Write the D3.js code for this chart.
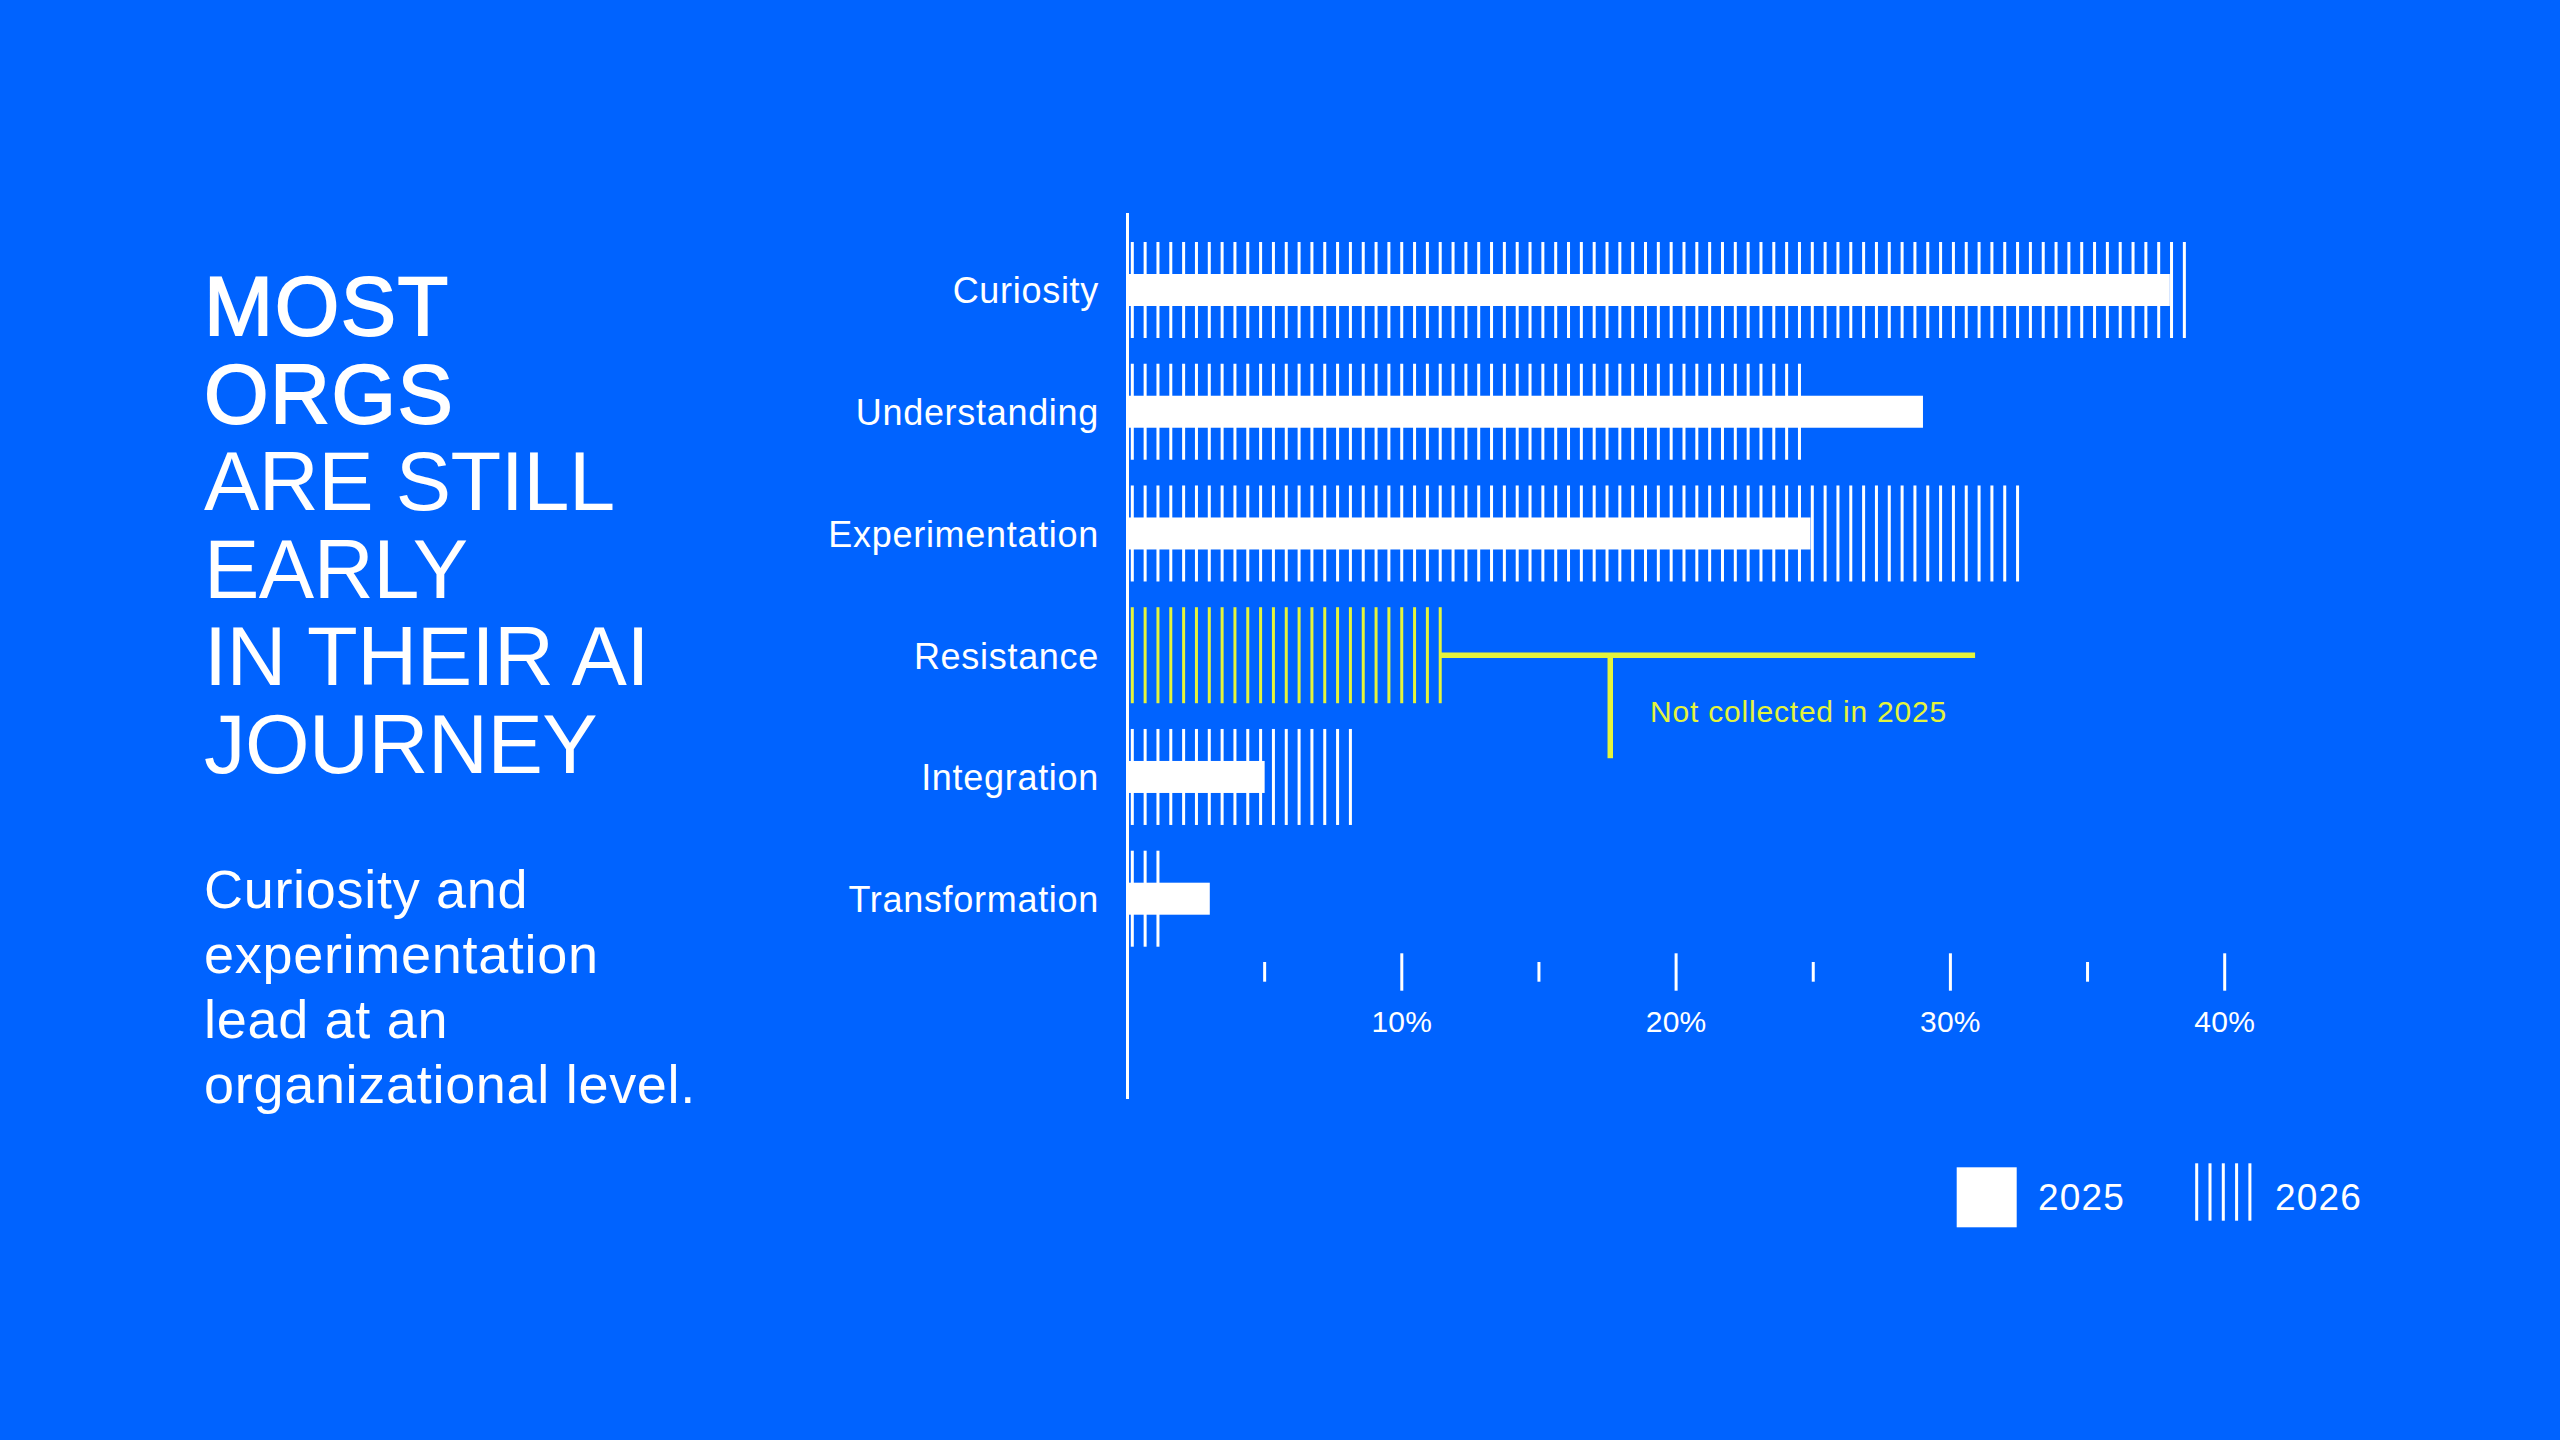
<!DOCTYPE html>
<html>
<head>
<meta charset="utf-8">
<script src="https://cdn.jsdelivr.net/npm/d3@7"></script>
<style>
  html, body { margin: 0; padding: 0; background: #0063ff; }
  svg { display: block; }
  text { font-family: "Liberation Sans", Arial, sans-serif; fill: #ffffff; }
</style>
</head>
<body>
<svg id="chart" width="2560" height="1440"></svg>
<script>
// ---- data ----
const categories = ["Curiosity", "Understanding", "Experimentation", "Resistance", "Integration", "Transformation"];
const values2025 = [38.0, 29.0, 24.9, null, 5.0, 3.0];
const values2026 = [38.6, 24.6, 32.5, 11.5, 8.2, 1.2];
const highlighted = ["Resistance"];
const tickValues = [5, 10, 15, 20, 25, 30, 35, 40];
const majorTicks = [10, 20, 30, 40];
const tickLabels = ["10%", "20%", "30%", "40%"];
const seriesNames = ["2025", "2026"];
const titleBold = ["MOST", "ORGS"];
const titleRegular = ["ARE STILL", "EARLY", "IN THEIR AI", "JOURNEY"];
const subtitleLines = ["Curiosity and", "experimentation", "lead at an", "organizational level."];
const annotationText = "Not collected in 2025";
const annotationEnd = 30.9;   // % where the bracket line ends
const annotationStem = 17.6;  // % where the stem drops
const annotationLabel = 19.05; // % where the note starts

// ---- style ----
const BLUE = "#0063ff", WHITE = "#ffffff", YELLOW = "#e4f43c";

const svg = d3.select("#chart");
svg.append("rect").attr("width", 2560).attr("height", 1440).attr("fill", BLUE);

// ---- title & subtitle ----
const allTitle = titleBold.concat(titleRegular);
svg.append("g").selectAll("text").data(allTitle).join("text")
  .attr("x", 204)
  .attr("y", (d, i) => 335 + i * 87.6)
  .attr("font-size", 83)
  .attr("letter-spacing", (d, i) => i < titleBold.length ? 1.5 : -0.5)
  .attr("stroke", (d, i) => i < titleBold.length ? WHITE : "none")
  .attr("stroke-width", (d, i) => i < titleBold.length ? 1.8 : 0)
  .text(d => d);

svg.append("g").selectAll("text").data(subtitleLines).join("text")
  .attr("x", 204)
  .attr("y", (d, i) => 908.3 + i * 65)
  .attr("font-size", 54)
  .attr("letter-spacing", 0.7)
  .text(d => d);

// ---- scales ----
const x = d3.scaleLinear().domain([0, 40]).range([1127.5, 2224.7]);
const y = d3.scalePoint().domain(categories).range([290, 898.7]);
const h2026 = 96, h2025 = 32;
const stripeGap = 12.83, stripeOffset = 4.8, stripeW = 3;

const plot = svg.append("g");

// 2026 striped bars
categories.forEach((c, i) => {
  const v = values2026[i];
  if (v == null) return;
  const end = x(v);
  const xs = d3.range(x(0) + stripeOffset, end + 0.01, stripeGap);
  const col = highlighted.includes(c) ? YELLOW : WHITE;
  plot.append("g").selectAll("rect").data(xs).join("rect")
    .attr("x", d => d - stripeW / 2)
    .attr("y", y(c) - h2026 / 2)
    .attr("width", stripeW)
    .attr("height", h2026)
    .attr("fill", col);
});

// 2025 solid bars
plot.append("g").selectAll("rect")
  .data(categories.map((c, i) => ({c, v: values2025[i]})).filter(d => d.v != null))
  .join("rect")
  .attr("x", x(0))
  .attr("y", d => y(d.c) - h2025 / 2)
  .attr("width", d => x(d.v) - x(0))
  .attr("height", h2025)
  .attr("fill", WHITE);

// axis line
svg.append("line")
  .attr("x1", x(0)).attr("x2", x(0))
  .attr("y1", 213).attr("y2", 1099)
  .attr("stroke", WHITE).attr("stroke-width", 3);

// category labels
svg.append("g").selectAll("text").data(categories).join("text")
  .attr("x", 1099)
  .attr("y", d => y(d) + 13.3)
  .attr("text-anchor", "end")
  .attr("font-size", 36)
  .attr("letter-spacing", 0.7)
  .text(d => d);

// ticks
svg.append("g").selectAll("line").data(tickValues).join("line")
  .attr("x1", d => x(d)).attr("x2", d => x(d))
  .attr("y1", d => majorTicks.includes(d) ? 953.3 : 962)
  .attr("y2", d => majorTicks.includes(d) ? 990.7 : 981.7)
  .attr("stroke", WHITE).attr("stroke-width", 3);

svg.append("g").selectAll("text").data(majorTicks).join("text")
  .attr("x", d => x(d))
  .attr("y", 1032)
  .attr("text-anchor", "middle")
  .attr("font-size", 30)
  .attr("letter-spacing", 0.2)
  .text((d, i) => tickLabels[i]);

// annotation for Resistance
const rIdx = categories.indexOf("Resistance");
const ry = y("Resistance");
const rEnd = d3.range(x(0) + stripeOffset, x(values2026[rIdx]) + 0.01, stripeGap).pop();
const ann = svg.append("g");
ann.append("line")
  .attr("x1", rEnd).attr("x2", x(annotationEnd))
  .attr("y1", ry).attr("y2", ry)
  .attr("stroke", YELLOW).attr("stroke-width", 5.5);
ann.append("line")
  .attr("x1", x(annotationStem)).attr("x2", x(annotationStem))
  .attr("y1", ry).attr("y2", ry + 103)
  .attr("stroke", YELLOW).attr("stroke-width", 5.5);
ann.append("text")
  .attr("x", x(annotationLabel))
  .attr("y", ry + 67)
  .attr("font-size", 30)
  .attr("letter-spacing", 0.8)
  .style("fill", YELLOW)
  .text(annotationText);

// legend
const leg = svg.append("g");
leg.append("rect")
  .attr("x", 1956.7).attr("y", 1167.3).attr("width", 60).attr("height", 60)
  .attr("fill", WHITE);
leg.append("text")
  .attr("x", 2038).attr("y", 1210).attr("font-size", 37).attr("letter-spacing", 1.2)
  .text(seriesNames[0]);
leg.append("g").selectAll("rect").data(d3.range(5)).join("rect")
  .attr("x", d => 2196.7 + d * 13.3 - stripeW / 2)
  .attr("y", 1163.3).attr("width", stripeW).attr("height", 57.4)
  .attr("fill", WHITE);
leg.append("text")
  .attr("x", 2275).attr("y", 1210).attr("font-size", 37).attr("letter-spacing", 1.2)
  .text(seriesNames[1]);
</script>
</body>
</html>
